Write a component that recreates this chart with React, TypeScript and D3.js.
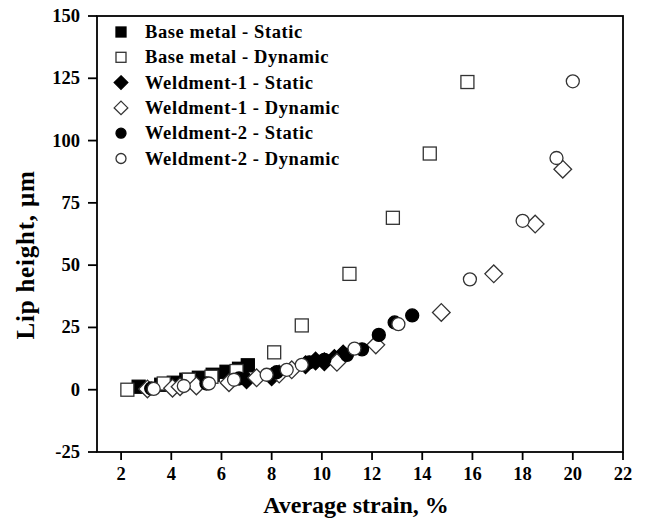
import React from "react";
import * as d3 from "d3";

const xTicks = [2, 4, 6, 8, 10, 12, 14, 16, 18, 20, 22];
const yTicks = [-25, 0, 25, 50, 75, 100, 125, 150];

const baseStatic: [number, number][] = [
  [2.7, 1.2], [3.6, 2], [4.1, 2.8], [4.6, 4], [5.1, 4.8], [5.65, 6], [6.2, 7.2], [6.7, 8.4], [7.05, 9.8],
];
const baseDynamic: [number, number][] = [
  [2.25, 0], [3.7, 2.5], [4.7, 4], [5.6, 5.2], [6.6, 7.5], [8.1, 15], [9.2, 25.8], [11.1, 46.5], [12.83, 69], [14.3, 94.8], [15.8, 123.5],
];
const weld1Static: [number, number][] = [
  [7.0, 4], [8.0, 5.2], [9.35, 10], [9.75, 11.5], [10.1, 11.2], [10.5, 12.5], [10.85, 14.3],
];
const weld1Dynamic: [number, number][] = [
  [3.05, 0.3], [4.05, 0.6], [4.35, 1.2], [5.0, 1.5], [6.3, 2.8], [7.4, 4.8], [8.3, 6.3], [8.8, 8], [10.6, 11], [12.15, 18], [14.76, 31], [16.85, 46.5], [18.5, 66.5], [19.6, 88.5],
];
const weld2Static: [number, number][] = [
  [3.2, 0.5], [5.4, 2.5], [6.7, 4.5], [8.2, 7], [9.5, 11], [10.1, 12], [11.0, 14], [11.6, 16.2], [12.27, 22], [12.9, 27], [13.6, 29.8],
];
const weld2Dynamic: [number, number][] = [
  [3.3, 0.3], [4.5, 1.5], [5.5, 2.5], [6.5, 4], [7.8, 6], [8.6, 8], [9.2, 10], [11.3, 16.5], [13.05, 26.3], [15.9, 44.3], [18.0, 67.8], [19.35, 93], [20.0, 123.8],
];

type Shape = "square" | "diamond" | "circle";
interface Series { name: string; data: [number, number][]; shape: Shape; filled: boolean; }

const series: Series[] = [
  { name: "Base metal - Static", data: baseStatic, shape: "square", filled: true },
  { name: "Base metal - Dynamic", data: baseDynamic, shape: "square", filled: false },
  { name: "Weldment-1 - Static", data: weld1Static, shape: "diamond", filled: true },
  { name: "Weldment-1 - Dynamic", data: weld1Dynamic, shape: "diamond", filled: false },
  { name: "Weldment-2 - Static", data: weld2Static, shape: "circle", filled: true },
  { name: "Weldment-2 - Dynamic", data: weld2Dynamic, shape: "circle", filled: false },
];

const W = 646, H = 523;
const L = 97, R = 623, T = 16, B = 452;
const FONT = "'Liberation Serif', 'Times New Roman', serif";

function Marker({ shape, filled, x, y, s }: { shape: Shape; filled: boolean; x: number; y: number; s: number }) {
  const fill = filled ? "#000" : "#fff";
  const stroke = filled ? "#000" : "#333";
  const sw = 1.3;
  if (shape === "square") {
    return <rect x={x - s / 2} y={y - s / 2} width={s} height={s} fill={fill} stroke={stroke} strokeWidth={sw} />;
  }
  if (shape === "circle") {
    return <circle cx={x} cy={y} r={s / 2} fill={fill} stroke={stroke} strokeWidth={sw} />;
  }
  const d = s * 0.68;
  return (
    <path d={`M${x},${y - d}L${x + d},${y}L${x},${y + d}L${x - d},${y}Z`} fill={fill} stroke={stroke} strokeWidth={sw} />
  );
}

export default function App() {
  const x = d3.scaleLinear().domain([1.04, 22]).range([L, R]);
  const y = d3.scaleLinear().domain([-25, 150]).range([B, T]);

  return (
    <svg width={W} height={H} style={{ position: "absolute", left: 0, top: 0, background: "#fff" }} fontFamily={FONT}>
      <rect x={0} y={0} width={W} height={H} fill="#fff" />
      <rect x={L} y={T} width={R - L} height={B - T} fill="none" stroke="#000" strokeWidth={1.8} />
      {xTicks.map((t) => (
        <g key={"x" + t}>
          <line x1={x(t)} x2={x(t)} y1={B} y2={B + 8} stroke="#000" strokeWidth={1.8} />
          <text x={x(t)} y={B + 28} textAnchor="middle" fontSize={18.5} fontWeight="bold">{t}</text>
        </g>
      ))}
      {yTicks.map((t) => (
        <g key={"y" + t}>
          <line x1={L - 9} x2={L} y1={y(t)} y2={y(t)} stroke="#000" strokeWidth={1.8} />
          <text x={L - 17} y={y(t) + 6} textAnchor="end" fontSize={18.5} fontWeight="bold">{t}</text>
        </g>
      ))}
      <text x={(L + R) / 2 - 4} y={513} textAnchor="middle" fontSize={24} fontWeight="bold">Average strain, %</text>
      <text transform={`translate(34,${(T + B) / 2 + 21}) rotate(-90)`} textAnchor="middle" fontSize={25} fontWeight="bold" letterSpacing={0.8}>Lip height, μm</text>
      {series.map((s, i) => (
        <g key={"s" + i}>
          {s.data.map((p, j) => (
            <Marker key={j} shape={s.shape} filled={s.filled} x={x(p[0])} y={y(p[1])} s={13} />
          ))}
        </g>
      ))}
      {series.map((s, i) => (
        <g key={"l" + i}>
          <Marker shape={s.shape} filled={s.filled} x={121} y={32 + i * 25.3} s={10} />
          <text x={145} y={32 + i * 25.3 + 6} fontSize={18.5} fontWeight="bold" letterSpacing={0.6}>{s.name}</text>
        </g>
      ))}
    </svg>
  );
}
